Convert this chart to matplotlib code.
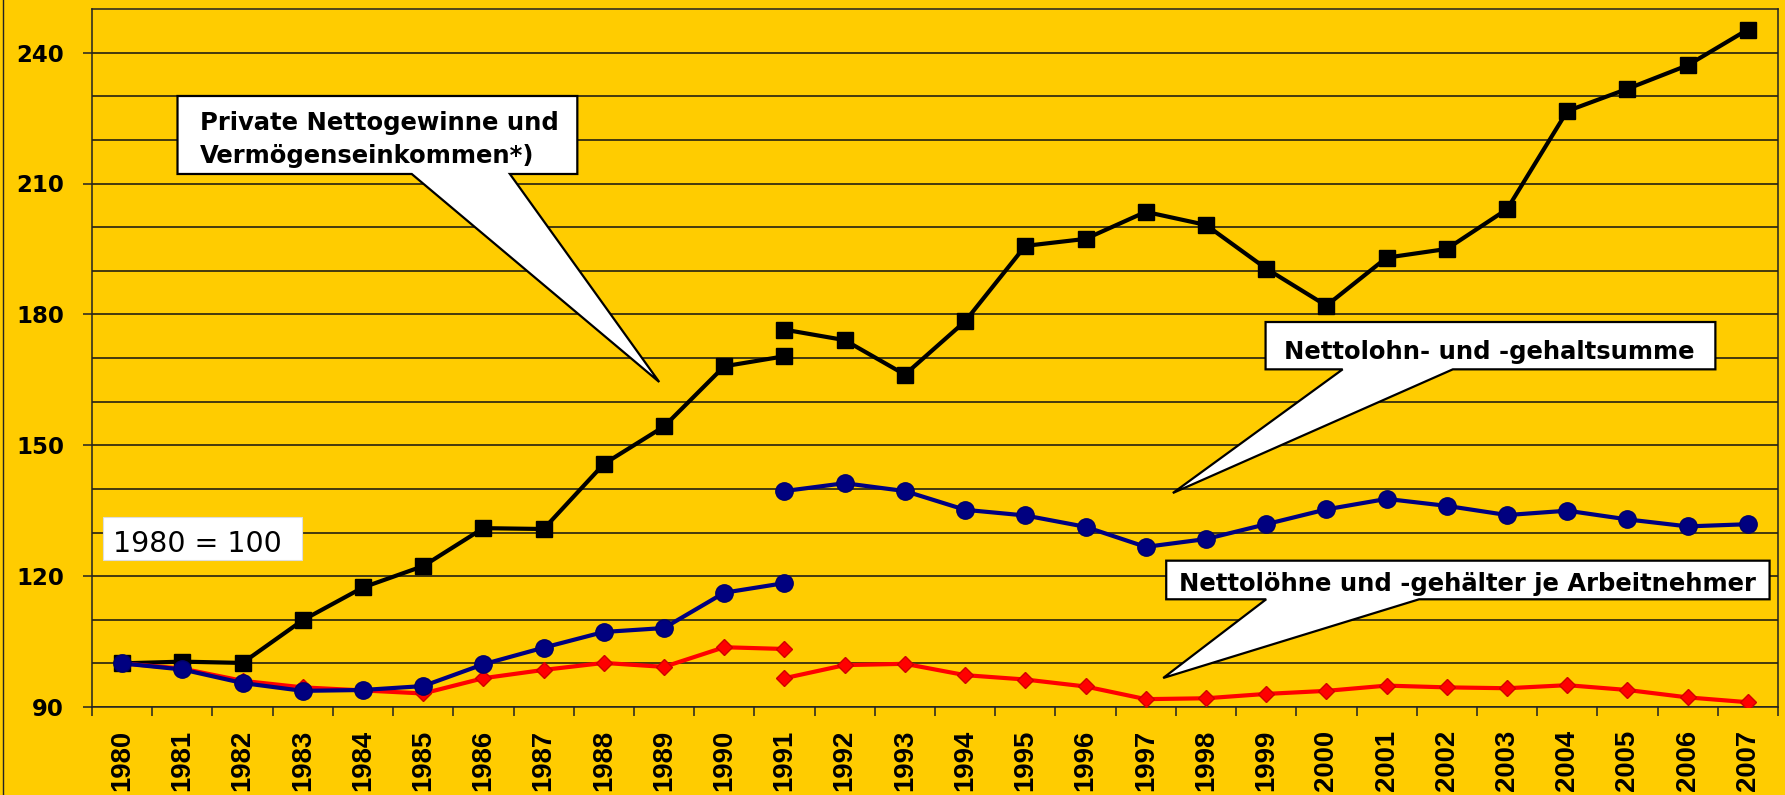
import numpy as np
import matplotlib
matplotlib.use("Agg")
import matplotlib.pyplot as plt
from matplotlib.patches import Polygon, Rectangle
from matplotlib.lines import Line2D

# Jahre (Kategorien), 1991 doppelt: Westdeutschland bis 1991, Deutschland ab 1991
years = [str(y) for y in range(1980, 2008)]

gewinne_west = [100, 100.4, 100.1, 109.9, 117.4, 122.3, 131.0, 130.8, 145.7, 154.3, 168.1, 170.4]
gewinne_gesamt = [176.5, 174.1, 166.2, 178.4, 195.7, 197.3, 203.5, 200.5, 190.5, 182.0,
                  193.0, 195.0, 204.1, 226.6, 231.7, 237.1, 245.3]

lohnsumme_west = [100, 98.6, 95.5, 93.7, 93.9, 94.8, 99.8, 103.6, 107.2, 108.1, 116.2, 118.4]
lohnsumme_gesamt = [139.5, 141.3, 139.5, 135.2, 133.9, 131.3, 126.7, 128.5, 131.9, 135.3,
                    137.7, 136.1, 134.0, 135.0, 133.0, 131.4, 131.9]

je_an_west = [100, 98.8, 96.0, 94.5, 93.8, 93.1, 96.6, 98.5, 100.1, 99.2, 103.7, 103.3]
je_an_gesamt = [96.6, 99.6, 99.9, 97.3, 96.3, 94.7, 91.8, 92.0, 93.0, 93.7,
                94.9, 94.5, 94.3, 95.0, 93.9, 92.2, 91.1]

BG = "#FFCC00"
BOLD = dict(family="DejaVu Sans", weight="bold", size=17.5)

fig = plt.figure(figsize=(17.85, 7.95), dpi=100, facecolor=BG)
ax = fig.add_axes([92 / 1785, 88 / 795, 1686 / 1785, 698 / 795])
ax.set_facecolor(BG)

x_west = np.arange(0, len(gewinne_west))
x_ges = np.arange(11, 11 + len(gewinne_gesamt))

# Gewinne (schwarz)
for xs, ys in [(x_west, gewinne_west), (x_ges, gewinne_gesamt)]:
    ax.plot(xs, ys, color="black", lw=3, marker="s", ms=12, mec="black", zorder=3)
# je Arbeitnehmer (rot)
for xs, ys in [(x_west, je_an_west), (x_ges, je_an_gesamt)]:
    ax.plot(xs, ys, color="#FF0000", lw=3, marker="D", ms=8, mec="#D00000", mew=1, zorder=4)
# Lohnsumme (blau)
for xs, ys in [(x_west, lohnsumme_west), (x_ges, lohnsumme_gesamt)]:
    ax.plot(xs, ys, color="#000080", lw=3, marker="o", ms=12.5, mec="#00006A", mew=1, zorder=5)

ax.set_xlim(-0.5, 27.5)
ax.set_ylim(90, 250)

ax.set_yticks(np.arange(90, 241, 30))
ax.set_yticks(np.arange(100, 250, 10), minor=True)
ax.yaxis.grid(True, which="both", color="#111111", lw=1.1, zorder=1)
ax.set_axisbelow(True)
ax.tick_params(axis="y", which="major", length=6.5, width=1.1, pad=13.5, color="#222222")
ax.tick_params(axis="y", which="minor", length=0)
for lab in ax.get_yticklabels():
    lab.set_fontfamily("DejaVu Sans")
    lab.set_fontweight("bold")
    lab.set_fontsize(16.5)

ax.set_xticks(np.arange(len(years)))
ax.set_xticklabels(years, rotation=90, fontfamily="Liberation Sans", fontweight="bold", fontsize=19.8)
ax.set_xticks(np.arange(-0.5, len(years)), minor=True)
ax.tick_params(axis="x", which="major", length=0, pad=16.5)
ax.tick_params(axis="x", which="minor", length=6.5, width=1.1, color="#222222")

for sp in ax.spines.values():
    sp.set_color("#222222")
    sp.set_linewidth(1.1)


def callout(box, base, tip):
    left, right, top, bottom = box
    pts = [(left, top), (right, top), (right, bottom), (base[1], bottom), tip,
           (base[0], bottom), (left, bottom)]
    ax.add_patch(Polygon(pts, closed=True, facecolor="white", edgecolor="black",
                         lw=1.6, joinstyle="miter", zorder=10))


callout((0.92, 7.56, 230.06, 212.18), (4.81, 6.44), (8.92, 164.5))
ax.text(1.29, 222.26, "Private Nettogewinne und", ha="left", va="baseline", zorder=11, **BOLD)
ax.text(1.29, 214.7, "Vermögenseinkommen*)", ha="left", va="baseline", zorder=11, **BOLD)

callout((18.99, 26.46, 178.25, 167.4), (20.27, 22.10), (17.45, 139.05))
ax.text(19.30, 169.7, "Nettolohn- und -gehaltsumme", ha="left", va="baseline", zorder=11, **BOLD)

callout((17.34, 27.36, 123.54, 114.69), (19.0, 21.54), (17.29, 96.65))
ax.text(17.55, 116.66, "Nettolöhne und -gehälter je Arbeitnehmer", ha="left", va="baseline",
        zorder=11, **BOLD)

ax.add_patch(Rectangle((-0.317, 123.7), 3.305, 9.85, facecolor="white", edgecolor="#DDDDDD",
                       lw=0.8, zorder=10))
ax.text(-0.15, 125.6, "1980 = 100", ha="left", va="baseline", family="DejaVu Sans",
        fontsize=20.5, zorder=11)

fig.add_artist(Line2D([3 / 1785, 3 / 1785], [0, 1], transform=fig.transFigure,
                      color="#222222", lw=1))

fig.savefig("out.png", dpi=100, facecolor=BG)
